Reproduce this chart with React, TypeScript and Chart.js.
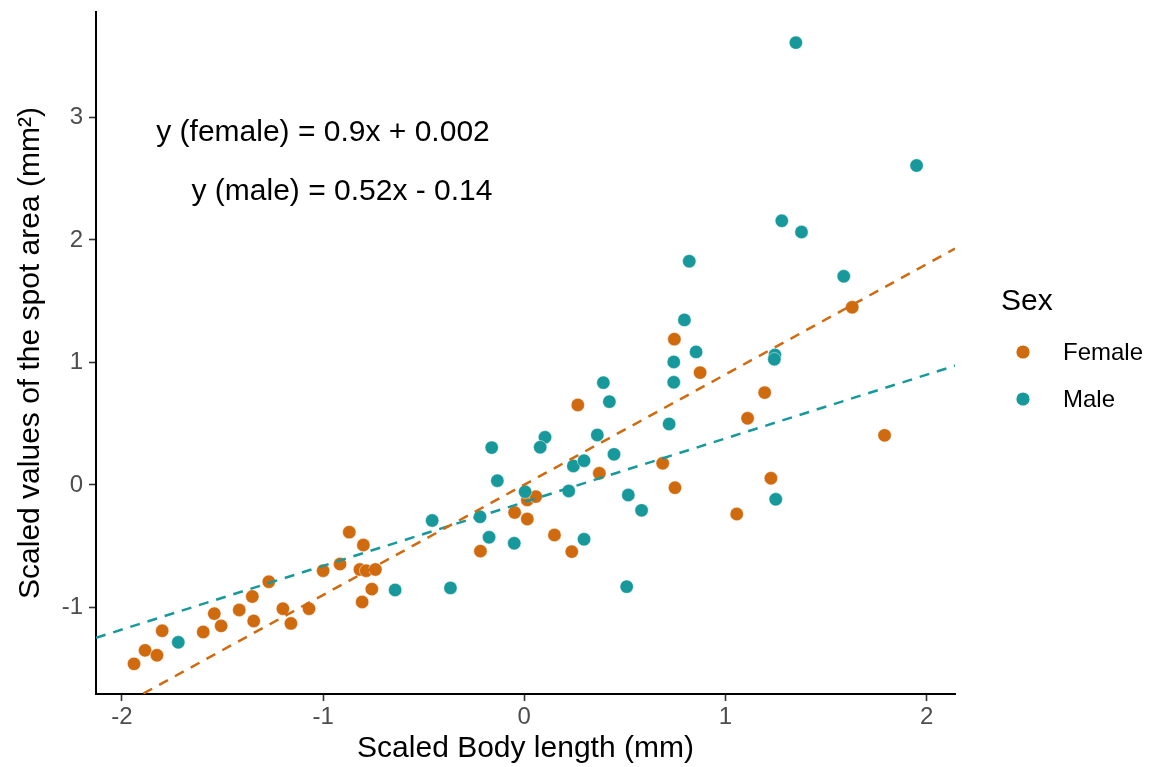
import React, { useEffect, useRef } from "react";
import { Chart, registerables } from "chart.js";

Chart.register(...registerables);

const FONT = "'Liberation Sans', Arial, Helvetica, sans-serif";
const ORANGE = "#CF6A0E";
const TEAL = "#17999B";

const seriesNames = ["Female", "Male"];
const legendTitle = "Sex";
const xTitle = "Scaled Body length (mm)";
const yTitle = "Scaled values of the spot area (mm²)";
const equations = ["y (female) = 0.9x + 0.002", "y (male) = 0.52x - 0.14"];

const xTicks = [-2, -1, 0, 1, 2];
const yTicks = [-1, 0, 1, 2, 3];
const xRange = [-2.129, 2.141];
const yRange = [-1.706, 3.86];

const femaleX = [
  -1.94, -1.885, -1.826, -1.8, -1.596, -1.541, -1.507, -1.417, -1.352, -1.345,
  -1.27, -1.2, -1.16, -1.07, -1.0, -0.916, -0.87, -0.8, -0.817, -0.786,
  -0.74, -0.806, -0.758, -0.218, -0.048, 0.266, 0.373, 0.015, 0.057, 0.015,
  0.15, 0.236, 0.746, 0.874, 1.195, 1.11, 0.688, 0.749, 1.226, 1.056,
  1.63, 1.791,
];
const femaleY = [
  -1.46, -1.35, -1.39, -1.19, -1.2, -1.05, -1.15, -1.02, -0.91, -1.11,
  -0.79, -1.01, -1.13, -1.01, -0.7, -0.645, -0.385, -0.49, -0.69, -0.7,
  -0.69, -0.955, -0.85, -0.54, -0.225, 0.653, 0.095, -0.122, -0.095, -0.278,
  -0.408, -0.544, 1.19, 0.917, 0.754, 0.544, 0.177, -0.022, 0.055, -0.237,
  1.45, 0.405,
];

const maleX = [
  -1.72, -0.642, -0.367, -0.458, -0.22, -0.175, -0.05, 0.393, 0.423, 0.103,
  0.079, -0.162, 0.363, 0.446, 0.244, 0.297, -0.134, 0.004, 0.221, 0.297,
  0.517, 0.583, 0.509, 0.82, 1.28, 1.378, 1.588, 0.796, 0.854, 0.743,
  0.743, 1.246, 1.243, 0.72, 1.25, 1.35, 1.95,
];
const maleY = [
  -1.284, -0.857, -0.84, -0.29, -0.26, -0.427, -0.476, 0.835, 0.68, 0.389,
  0.308, 0.305, 0.408, 0.25, 0.155, 0.198, 0.035, -0.055, -0.049, -0.443,
  -0.082, -0.207, -0.83, 1.826, 2.156, 2.064, 1.703, 1.347, 1.086, 1.004,
  0.838, 1.061, 1.026, 0.498, -0.117, 3.61, 2.607,
];

// regression line end points (from the fitted equations shown on the chart)
const femaleLineX = [-2.129, 2.141];
const femaleLineY = [-1.914, 1.929];
const maleLineX = [-2.129, 2.141];
const maleLineY = [-1.247, 0.973];

const toPts = (xs: number[], ys: number[]) => xs.map((x, i) => ({ x, y: ys[i] }));

const overlayPlugin = {
  id: "overlay",
  afterDraw(chart: any) {
    const ctx = chart.ctx as CanvasRenderingContext2D;
    ctx.save();
    ctx.fillStyle = "#000000";
    ctx.font = `30px ${FONT}`;
    ctx.textAlign = "center";
    ctx.textBaseline = "alphabetic";
    ctx.fillText(equations[0], 323, 141);
    ctx.fillText(equations[1], 342, 200);

    ctx.textAlign = "left";
    ctx.font = `30px ${FONT}`;
    ctx.fillText(legendTitle, 1001, 310);
    const colors = [ORANGE, TEAL];
    const ys = [352, 399];
    ctx.font = `24px ${FONT}`;
    seriesNames.forEach((name, i) => {
      ctx.beginPath();
      ctx.arc(1023, ys[i], 6.6, 0, Math.PI * 2);
      ctx.fillStyle = colors[i];
      ctx.fill();
      ctx.fillStyle = "#000000";
      ctx.textBaseline = "middle";
      ctx.fillText(name, 1063, ys[i] + 1);
    });
    ctx.restore();
  },
};

export default function App() {
  const ref = useRef<HTMLCanvasElement | null>(null);
  useEffect(() => {
    if (!ref.current) return;
    const chart = new Chart(ref.current, {
      type: "scatter",
      data: {
        datasets: [
          {
            type: "line",
            label: "female fit",
            data: toPts(femaleLineX, femaleLineY),
            borderColor: ORANGE,
            borderWidth: 2.5,
            borderDash: [10, 8],
            pointRadius: 0,
            fill: false,
          },
          {
            type: "line",
            label: "male fit",
            data: toPts(maleLineX, maleLineY),
            borderColor: TEAL,
            borderWidth: 2.5,
            borderDash: [10, 8],
            pointRadius: 0,
            fill: false,
          },
          {
            label: seriesNames[1],
            data: toPts(maleX, maleY),
            backgroundColor: TEAL,
            borderColor: "rgba(255,255,255,0.6)",
            borderWidth: 0.8,
            pointRadius: 6.7,
          },
          {
            label: seriesNames[0],
            data: toPts(femaleX, femaleY),
            backgroundColor: ORANGE,
            borderColor: "rgba(255,255,255,0.6)",
            borderWidth: 0.8,
            pointRadius: 6.7,
          },
        ],
      },
      options: {
        animation: false,
        responsive: true,
        maintainAspectRatio: false,
        layout: { padding: { left: 0, right: 195, top: 12, bottom: 0 } },
        plugins: { legend: { display: false }, tooltip: { enabled: false } },
        scales: {
          x: {
            type: "linear",
            min: xRange[0],
            max: xRange[1],
            afterBuildTicks: (s: any) => {
              s.ticks = xTicks.map((v) => ({ value: v }));
            },
            afterFit: (s: any) => {
              s.height = 73;
              s.paddingLeft = 0;
              s.paddingRight = 0;
            },
            grid: {
              drawOnChartArea: false,
              drawTicks: true,
              tickLength: 7,
              tickColor: "#333333",
              tickWidth: 1.6,
            },
            border: { display: true, color: "#000000", width: 2 },
            ticks: {
              color: "#4D4D4D",
              font: { family: FONT, size: 24 },
              padding: 2,
              maxRotation: 0,
            },
            title: {
              display: true,
              text: xTitle,
              color: "#000000",
              font: { family: FONT, size: 30 },
              padding: { top: 0, bottom: 0 },
            },
          },
          y: {
            type: "linear",
            min: yRange[0],
            max: yRange[1],
            afterBuildTicks: (s: any) => {
              s.ticks = yTicks.map((v) => ({ value: v }));
            },
            afterFit: (s: any) => {
              s.width = 96;
              s.paddingTop = 0;
              s.paddingBottom = 0;
            },
            grid: {
              drawOnChartArea: false,
              drawTicks: true,
              tickLength: 7,
              tickColor: "#333333",
              tickWidth: 1.6,
            },
            border: { display: true, color: "#000000", width: 2 },
            ticks: {
              color: "#4D4D4D",
              font: { family: FONT, size: 24 },
              padding: 6,
            },
            title: {
              display: true,
              text: yTitle,
              color: "#000000",
              font: { family: FONT, size: 30 },
              padding: { top: 13, bottom: 0 },
            },
          },
        },
      },
      plugins: [overlayPlugin],
    });
    return () => chart.destroy();
  }, []);

  return (
    <div style={{ position: "absolute", left: 0, top: 0, width: 1150, height: 767, background: "#fff" }}>
      <canvas ref={ref} />
    </div>
  );
}
